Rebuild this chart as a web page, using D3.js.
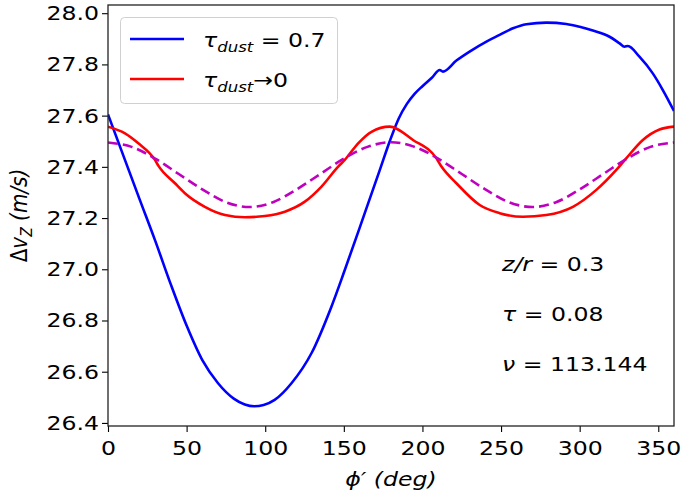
<!DOCTYPE html>
<html>
<head>
<meta charset="utf-8">
<script src="https://cdn.jsdelivr.net/npm/d3@7"></script>
<style>
  html, body { margin: 0; padding: 0; background: #fff; }
  svg { display: block; }
  text { font-family: "DejaVu Sans", sans-serif; fill: #000; }
</style>
</head>
<body>
<div id="chart"></div>
<script>
// ---- data ----
const bluePhi = [0, 10, 20, 30, 40, 50, 60, 70, 80, 87, 93, 99, 106, 116.7, 129.4, 142.1, 150.6, 163.3, 172.9, 179.2, 185, 190, 195, 200, 206, 211, 213, 221.6, 230, 240.7, 249.1, 257.6, 266.1, 278.8, 291.5, 300, 308.4, 319, 325.4, 328.5, 330.7, 338, 346.5, 352.9, 360];
const blueVal = [27.605, 27.44, 27.275, 27.112, 26.94, 26.78, 26.645, 26.555, 26.495, 26.472, 26.465, 26.47, 26.49, 26.555, 26.672, 26.854, 26.997, 27.219, 27.388, 27.5, 27.59, 27.645, 27.685, 27.715, 27.748, 27.778, 27.772, 27.815, 27.850, 27.889, 27.915, 27.941, 27.957, 27.963, 27.958, 27.947, 27.932, 27.908, 27.882, 27.869, 27.872, 27.830, 27.765, 27.700, 27.618];

const redPhi = [0, 10.8, 19.3, 29.9, 32, 42.6, 48.9, 61.6, 74.4, 87.1, 99.8, 112.5, 125.2, 135.8, 146.4, 150.6, 159.1, 167.6, 179.2, 194, 208.9, 212.1, 221.6, 236.4, 249.1, 263.9, 278.8, 295.7, 310.6, 323.3, 329.6, 340.2, 350.8, 360];
const redVal = [27.557, 27.531, 27.492, 27.427, 27.405, 27.336, 27.297, 27.244, 27.212, 27.203, 27.208, 27.225, 27.264, 27.323, 27.401, 27.427, 27.492, 27.537, 27.557, 27.505, 27.433, 27.401, 27.336, 27.251, 27.219, 27.205, 27.212, 27.244, 27.310, 27.388, 27.433, 27.505, 27.546, 27.557];

const magPhi = [0, 15, 30, 45, 60, 75, 90, 105, 120, 135, 150, 165, 180, 195, 210, 225, 240, 255, 270, 285, 300, 315, 330, 345, 360];
const magVal = [27.495, 27.478, 27.432, 27.372, 27.312, 27.262, 27.243, 27.262, 27.312, 27.372, 27.432, 27.478, 27.496, 27.478, 27.432, 27.372, 27.312, 27.262, 27.243, 27.262, 27.312, 27.372, 27.432, 27.478, 27.495];

const xTicks = [0, 50, 100, 150, 200, 250, 300, 350];
const yTicks = [26.4, 26.6, 26.8, 27.0, 27.2, 27.4, 27.6, 27.8, 28.0];

// ---- layout ----
const W = 683, H = 495;
const mL = 108, mR = 674, mT = 5, mB = 426;
const SX = 1.18; // horizontal glyph stretch seen in the reference

const svg = d3.select("#chart").append("svg").attr("width", W).attr("height", H);

const x = d3.scaleLinear().domain([0, 360]).range([mL, mR]);
const y = d3.scaleLinear().domain([26.388, 28.032]).range([mB, mT]);

svg.append("clipPath").attr("id", "clip").append("rect")
  .attr("x", mL).attr("y", mT).attr("width", mR - mL).attr("height", mB - mT);

const line = d3.line().x(d => x(d[0])).y(d => y(d[1])).curve(d3.curveMonotoneX);
const plot = svg.append("g").attr("clip-path", "url(#clip)");

plot.append("path").datum(bluePhi.map((p, i) => [p, blueVal[i]]))
  .attr("d", line).attr("fill", "none").attr("stroke", "#0000ff").attr("stroke-width", 2.6);
plot.append("path").datum(redPhi.map((p, i) => [p, redVal[i]]))
  .attr("d", line).attr("fill", "none").attr("stroke", "#ff0000").attr("stroke-width", 2.6);
plot.append("path").datum(magPhi.map((p, i) => [p, magVal[i]]))
  .attr("d", line).attr("fill", "none").attr("stroke", "#bf00bf").attr("stroke-width", 2.6)
  .attr("stroke-dasharray", "10,5");

// axes
const xAxis = d3.axisBottom(x).tickValues(xTicks).tickSize(6).tickPadding(4).tickFormat(d3.format("d"));
const yAxis = d3.axisLeft(y).tickValues(yTicks).tickSize(6).tickPadding(4).tickFormat(d3.format(".1f"));

const gx = svg.append("g").attr("transform", `translate(0,${mB})`).call(xAxis);
const gy = svg.append("g").attr("transform", `translate(${mL},0)`).call(yAxis);
[gx, gy].forEach(g => {
  g.select(".domain").remove();
  g.selectAll(".tick line").attr("stroke", "#000").attr("stroke-width", 1.1);
  g.selectAll(".tick text").attr("font-size", 20).attr("font-family", "DejaVu Sans").attr("fill", "#000");
});
gx.selectAll(".tick text").attr("dy", "0.95em").attr("transform", `scale(${SX},1)`);
gy.selectAll(".tick text").attr("x", 0).attr("transform", `translate(-9,0) scale(${SX},1)`);

// frame
svg.append("rect").attr("x", mL).attr("y", mT).attr("width", mR - mL).attr("height", mB - mT)
  .attr("fill", "none").attr("stroke", "#222").attr("stroke-width", 1.3);

// axis labels
const yl = svg.append("text").attr("transform", `translate(27,${(mT + mB) / 2}) rotate(-90) scale(1,${SX})`)
  .attr("text-anchor", "middle").attr("font-size", 20);
yl.append("tspan").text("Δ");
yl.append("tspan").attr("font-style", "italic").text("v");
yl.append("tspan").attr("font-style", "italic").attr("font-size", 14).attr("dy", 4).text("Z");
yl.append("tspan").attr("font-style", "italic").attr("dy", -4).text(" (m/s)");

svg.append("text").attr("transform", `translate(${(mL + mR) / 2},486) scale(${SX},1)`).attr("text-anchor", "middle")
  .attr("font-size", 20).attr("font-style", "italic").text("ϕ′ (deg)");

// legend
const lg = svg.append("g");
lg.append("rect").attr("x", 120.5).attr("y", 17.5).attr("width", 217).attr("height", 86).attr("rx", 4)
  .attr("fill", "#fff").attr("fill-opacity", 0.8).attr("stroke", "#d0d0d0").attr("stroke-width", 1);
const legendItems = [
  { color: "#0000ff", yy: 39, tail: " = 0.7" },
  { color: "#ff0000", yy: 79, tail: "→0" }
];
legendItems.forEach(it => {
  lg.append("line").attr("x1", 130).attr("x2", 184).attr("y1", it.yy).attr("y2", it.yy)
    .attr("stroke", it.color).attr("stroke-width", 2.6);
  const t = lg.append("text").attr("transform", `translate(203,${it.yy + 8}) scale(${SX},1)`).attr("font-size", 20);
  t.append("tspan").attr("font-style", "italic").text("τ");
  t.append("tspan").attr("font-style", "italic").attr("font-size", 14).attr("dy", 5).text("dust");
  t.append("tspan").attr("dy", -5).text(it.tail);
});

// annotations
const ann = [
  { y: 271, a: "z/r", b: " = 0.3" },
  { y: 321, a: "τ", b: " = 0.08" },
  { y: 371, a: "ν", b: " = 113.144" }
];
ann.forEach(d => {
  const t = svg.append("text").attr("transform", `translate(502,${d.y}) scale(${SX},1)`).attr("font-size", 20);
  t.append("tspan").attr("font-style", "italic").text(d.a);
  t.append("tspan").text(d.b);
});
</script>
</body>
</html>
